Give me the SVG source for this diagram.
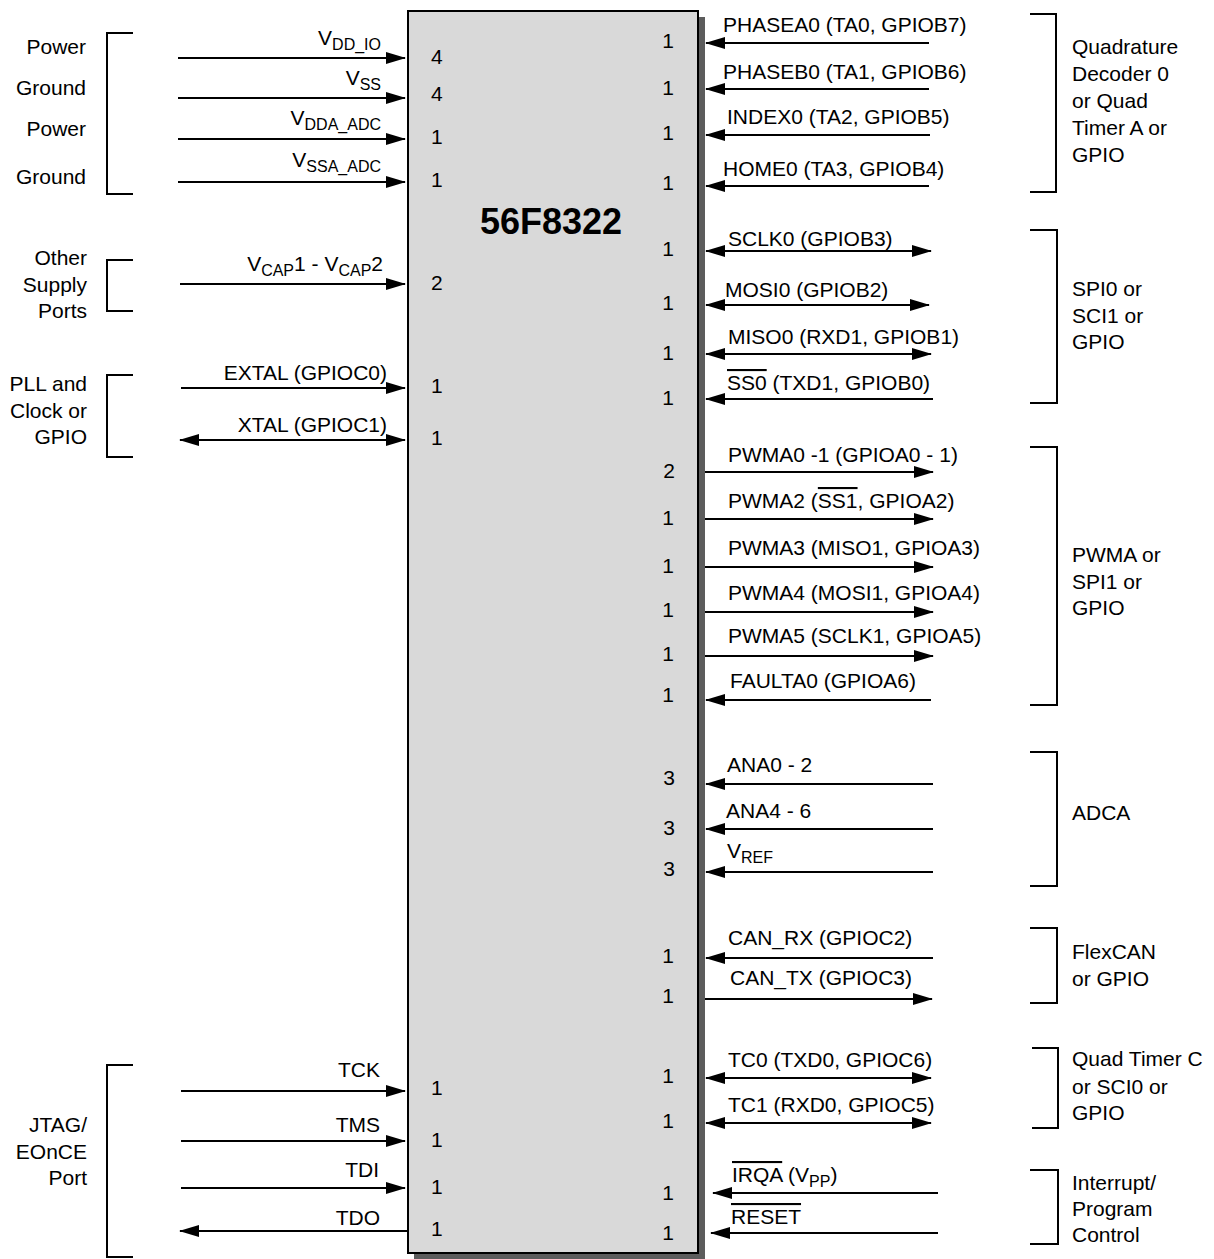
<svg xmlns="http://www.w3.org/2000/svg" width="1214" height="1259" viewBox="0 0 1214 1259">
<style>
text{font-family:"Liberation Sans",Arial,Helvetica,sans-serif;font-size:21px;fill:#000}
.e{text-anchor:end}
.sub{font-size:16px}
.ol{text-decoration:overline}
.title{font-size:36px;font-weight:bold}
.br{fill:none;stroke:#000;stroke-width:2}
.w{fill:none;stroke:#000;stroke-width:2}
.o{marker-end:url(#ah)}
.b{marker-start:url(#ah);marker-end:url(#ah)}
</style>
<defs>
<marker id="ah" markerUnits="userSpaceOnUse" markerWidth="20" markerHeight="12" refX="19" refY="6" orient="auto-start-reverse"><path d="M0,0 L20,6 L0,12 z" fill="#000"/></marker>
</defs>
<rect width="1214" height="1259" fill="#fff"/>

<g id="chip">
<rect x="414" y="17" width="291" height="1242" fill="#5c5c5c"/>
<rect x="408" y="11" width="290" height="1242" fill="#d9d9d9" stroke="#000" stroke-width="2"/>
<text class="title" x="480" y="234">56F8322</text>
<g id="pins-left">
<text x="431" y="64">4</text>
<text x="431" y="101">4</text>
<text x="431" y="144">1</text>
<text x="431" y="187">1</text>
<text x="431" y="290">2</text>
<text x="431" y="393">1</text>
<text x="431" y="445">1</text>
<text x="431" y="1095">1</text>
<text x="431" y="1147">1</text>
<text x="431" y="1194">1</text>
<text x="431" y="1236">1</text>
</g>
<g id="pins-right">
<text class="e" x="674" y="48">1</text>
<text class="e" x="674" y="95">1</text>
<text class="e" x="674" y="140">1</text>
<text class="e" x="674" y="190">1</text>
<text class="e" x="674" y="256">1</text>
<text class="e" x="674" y="310">1</text>
<text class="e" x="674" y="360">1</text>
<text class="e" x="674" y="405">1</text>
<text class="e" x="675" y="478">2</text>
<text class="e" x="674" y="525">1</text>
<text class="e" x="674" y="573">1</text>
<text class="e" x="674" y="617">1</text>
<text class="e" x="674" y="661">1</text>
<text class="e" x="674" y="702">1</text>
<text class="e" x="675" y="785">3</text>
<text class="e" x="675" y="835">3</text>
<text class="e" x="675" y="876">3</text>
<text class="e" x="674" y="963">1</text>
<text class="e" x="674" y="1003">1</text>
<text class="e" x="674" y="1083">1</text>
<text class="e" x="674" y="1128">1</text>
<text class="e" x="674" y="1200">1</text>
<text class="e" x="674" y="1240">1</text>
</g>
</g>

<g id="grp-power">
<path class="br" d="M133,33 H107 V194 H133"/>
<text class="e" x="86" y="54">Power</text>
<text class="e" x="86" y="95">Ground</text>
<text class="e" x="86" y="136">Power</text>
<text class="e" x="86" y="184">Ground</text>
</g>
<g id="grp-supply">
<path class="br" d="M133,260 H107 V311 H133"/>
<text class="e" x="87" y="265">Other</text>
<text class="e" x="87" y="292">Supply</text>
<text class="e" x="87" y="318">Ports</text>
</g>
<g id="grp-pll">
<path class="br" d="M133,375 H107 V457 H133"/>
<text class="e" x="87" y="391">PLL and</text>
<text class="e" x="87" y="418">Clock or</text>
<text class="e" x="87" y="444">GPIO</text>
</g>
<g id="grp-jtag">
<path class="br" d="M133,1065 H107 V1257 H133"/>
<text class="e" x="87" y="1132">JTAG/</text>
<text class="e" x="87" y="1159">EOnCE</text>
<text class="e" x="87" y="1185">Port</text>
</g>

<g id="grp-quad">
<path class="br" d="M1030,14 H1056 V192 H1030"/>
<text x="1072" y="54">Quadrature</text>
<text x="1072" y="81">Decoder 0</text>
<text x="1072" y="108">or Quad</text>
<text x="1072" y="135">Timer A or</text>
<text x="1072" y="162">GPIO</text>
</g>
<g id="grp-spi">
<path class="br" d="M1030,230 H1057 V403 H1030"/>
<text x="1072" y="296">SPI0 or</text>
<text x="1072" y="323">SCI1 or</text>
<text x="1072" y="349">GPIO</text>
</g>
<g id="grp-pwma">
<path class="br" d="M1030,447 H1057 V705 H1030"/>
<text x="1072" y="562">PWMA or</text>
<text x="1072" y="589">SPI1 or</text>
<text x="1072" y="615">GPIO</text>
</g>
<g id="grp-adca">
<path class="br" d="M1030,752 H1057 V886 H1030"/>
<text x="1072" y="820">ADCA</text>
</g>
<g id="grp-can">
<path class="br" d="M1030,928 H1057 V1003 H1030"/>
<text x="1072" y="959">FlexCAN</text>
<text x="1072" y="986">or GPIO</text>
</g>
<g id="grp-tmrc">
<path class="br" d="M1032,1048 H1058 V1128 H1032"/>
<text x="1072" y="1066">Quad Timer C</text>
<text x="1072" y="1094">or SCI0 or</text>
<text x="1072" y="1120">GPIO</text>
</g>
<g id="grp-irq">
<path class="br" d="M1030,1170 H1058 V1244 H1030"/>
<text x="1072" y="1190">Interrupt/</text>
<text x="1072" y="1216">Program</text>
<text x="1072" y="1242">Control</text>
</g>

<g id="connectors">
<path class="w o" d="M178,58 H405"/>
<text class="e" x="381" y="45">V<tspan class="sub" dy="5">DD_IO</tspan></text>
<path class="w o" d="M178,98 H405"/>
<text class="e" x="381" y="85">V<tspan class="sub" dy="5">SS</tspan></text>
<path class="w o" d="M178,139 H405"/>
<text class="e" x="381" y="125">V<tspan class="sub" dy="5">DDA_ADC</tspan></text>
<path class="w o" d="M178,182 H405"/>
<text class="e" x="381" y="167">V<tspan class="sub" dy="5">SSA_ADC</tspan></text>
<path class="w o" d="M180,284 H405"/>
<text class="e" x="383" y="271">V<tspan class="sub" dy="5">CAP</tspan><tspan dy="-5">1 - V</tspan><tspan class="sub" dy="5">CAP</tspan><tspan dy="-5">2</tspan></text>
<path class="w o" d="M181,388 H405"/>
<text class="e" x="387" y="380">EXTAL (GPIOC0)</text>
<path class="w b" d="M180,440 H405"/>
<text class="e" x="387" y="432">XTAL (GPIOC1)</text>
<path class="w o" d="M181,1091 H405"/>
<text class="e" x="380" y="1077">TCK</text>
<path class="w o" d="M181,1141 H405"/>
<text class="e" x="380" y="1132">TMS</text>
<path class="w o" d="M181,1188 H405"/>
<text class="e" x="379" y="1177">TDI</text>
<path class="w o" d="M407,1231 H180"/>
<text class="e" x="380" y="1225">TDO</text>

<path class="w o" d="M929,43 H706"/>
<text x="723" y="32">PHASEA0 (TA0, GPIOB7)</text>
<path class="w o" d="M929,89 H706"/>
<text x="723" y="79">PHASEB0 (TA1, GPIOB6)</text>
<path class="w o" d="M930,135 H706"/>
<text x="727" y="124">INDEX0 (TA2, GPIOB5)</text>
<path class="w o" d="M929,186 H706"/>
<text x="723" y="176">HOME0 (TA3, GPIOB4)</text>

<path class="w b" d="M706,251 H931"/>
<text x="728" y="246">SCLK0 (GPIOB3)</text>
<path class="w b" d="M706,305 H929"/>
<text x="725" y="297">MOSI0 (GPIOB2)</text>
<path class="w b" d="M706,354 H931"/>
<text x="728" y="344">MISO0 (RXD1, GPIOB1)</text>
<path class="w o" d="M933,399 H706"/>
<text x="727" y="390"><tspan class="ol">SS0</tspan> (TXD1, GPIOB0)</text>

<path class="w o" d="M705,472 H933"/>
<text x="728" y="462">PWMA0 -1 (GPIOA0 - 1)</text>
<path class="w o" d="M705,519 H933"/>
<text x="728" y="508">PWMA2 (<tspan class="ol">SS1</tspan>, GPIOA2)</text>
<path class="w o" d="M705,567 H933"/>
<text x="728" y="555">PWMA3 (MISO1, GPIOA3)</text>
<path class="w o" d="M705,612 H933"/>
<text x="728" y="600">PWMA4 (MOSI1, GPIOA4)</text>
<path class="w o" d="M705,656 H933"/>
<text x="728" y="643">PWMA5 (SCLK1, GPIOA5)</text>
<path class="w o" d="M931,700 H706"/>
<text x="730" y="688">FAULTA0 (GPIOA6)</text>

<path class="w o" d="M933,784 H706"/>
<text x="727" y="772">ANA0 - 2</text>
<path class="w o" d="M933,829 H706"/>
<text x="726" y="818">ANA4 - 6</text>
<path class="w o" d="M933,872 H706"/>
<text x="727" y="858">V<tspan class="sub" dy="5">REF</tspan></text>

<path class="w o" d="M933,958 H706"/>
<text x="728" y="945">CAN_RX (GPIOC2)</text>
<path class="w o" d="M705,999 H932"/>
<text x="730" y="985">CAN_TX (GPIOC3)</text>

<path class="w b" d="M706,1078 H931"/>
<text x="728" y="1067">TC0 (TXD0, GPIOC6)</text>
<path class="w b" d="M706,1123 H931"/>
<text x="728" y="1112">TC1 (RXD0, GPIOC5)</text>

<path class="w o" d="M938,1193 H713"/>
<text x="732" y="1182"><tspan class="ol">IRQA</tspan> (V<tspan class="sub" dy="5">PP</tspan><tspan dy="-5">)</tspan></text>
<path class="w o" d="M938,1233 H711"/>
<text x="731" y="1224"><tspan class="ol">RESET</tspan></text>
</g>
</svg>
